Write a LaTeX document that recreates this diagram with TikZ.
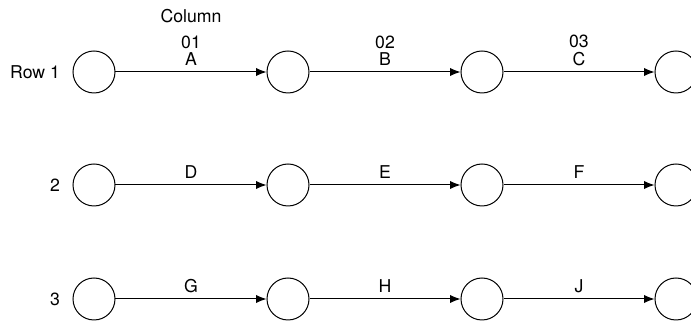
\documentclass[tikz,border=0pt]{standalone}
\usepackage{fontspec}
\setmainfont{TeX Gyre Heros}
\usetikzlibrary{positioning,arrows.meta}

\begin{document}
\begin{tikzpicture}[
    x=0.6pt, y=-0.6pt,
    font=\fontsize{10.6}{11.5}\selectfont,
    >={Latex[length=6.3pt,width=5pt]},
    line/.style={->, line width=0.6pt},
    event/.style={
        draw, circle, line width=0.6pt,
        minimum size=25.2pt, inner sep=0pt
    },
    act/.style={midway, above=2.5pt, align=center, inner sep=1pt},
    rowlbl/.style={left=4pt of #1}
]
\useasboundingbox (0,0) rectangle (691,325);

% Events
\node[event] (r1c1) at (94,72)  {};
\node[event] (r1c2) at (288,72) {};
\node[event] (r1c3) at (482,72) {};
\node[event] (r1c4) at (676,72) {};

\node[event] (r2c1) at (94,185)  {};
\node[event] (r2c2) at (288,185) {};
\node[event] (r2c3) at (482,185) {};
\node[event] (r2c4) at (676,185) {};

\node[event] (r3c1) at (94,299)  {};
\node[event] (r3c2) at (288,299) {};
\node[event] (r3c3) at (482,299) {};
\node[event] (r3c4) at (676,299) {};

% Row labels
\node[rowlbl=r1c1] (row1) {Row 1};
\node[rowlbl=r2c1] (row2) {2};
\node[rowlbl=r3c1] (row3) {3};

% Activities
\draw[line] (r1c1) -- (r1c2) node[act] (actA) {01\\[-1pt]A};
\draw[line] (r1c2) -- (r1c3) node[act] (actB) {02\\[-1pt]B};
\draw[line] (r1c3) -- (r1c4) node[act] (actC) {03\\[-1pt]C};

\draw[line] (r2c1) -- (r2c2) node[act] (actD) {D};
\draw[line] (r2c2) -- (r2c3) node[act] (actE) {E};
\draw[line] (r2c3) -- (r2c4) node[act] (actF) {F};

\draw[line] (r3c1) -- (r3c2) node[act] (actG) {G};
\draw[line] (r3c2) -- (r3c3) node[act] (actH) {H};
\draw[line] (r3c3) -- (r3c4) node[act] (actJ) {J};

% Column heading
\node[above=3pt of actA] (colhead) {Column};

\end{tikzpicture}
\end{document}
